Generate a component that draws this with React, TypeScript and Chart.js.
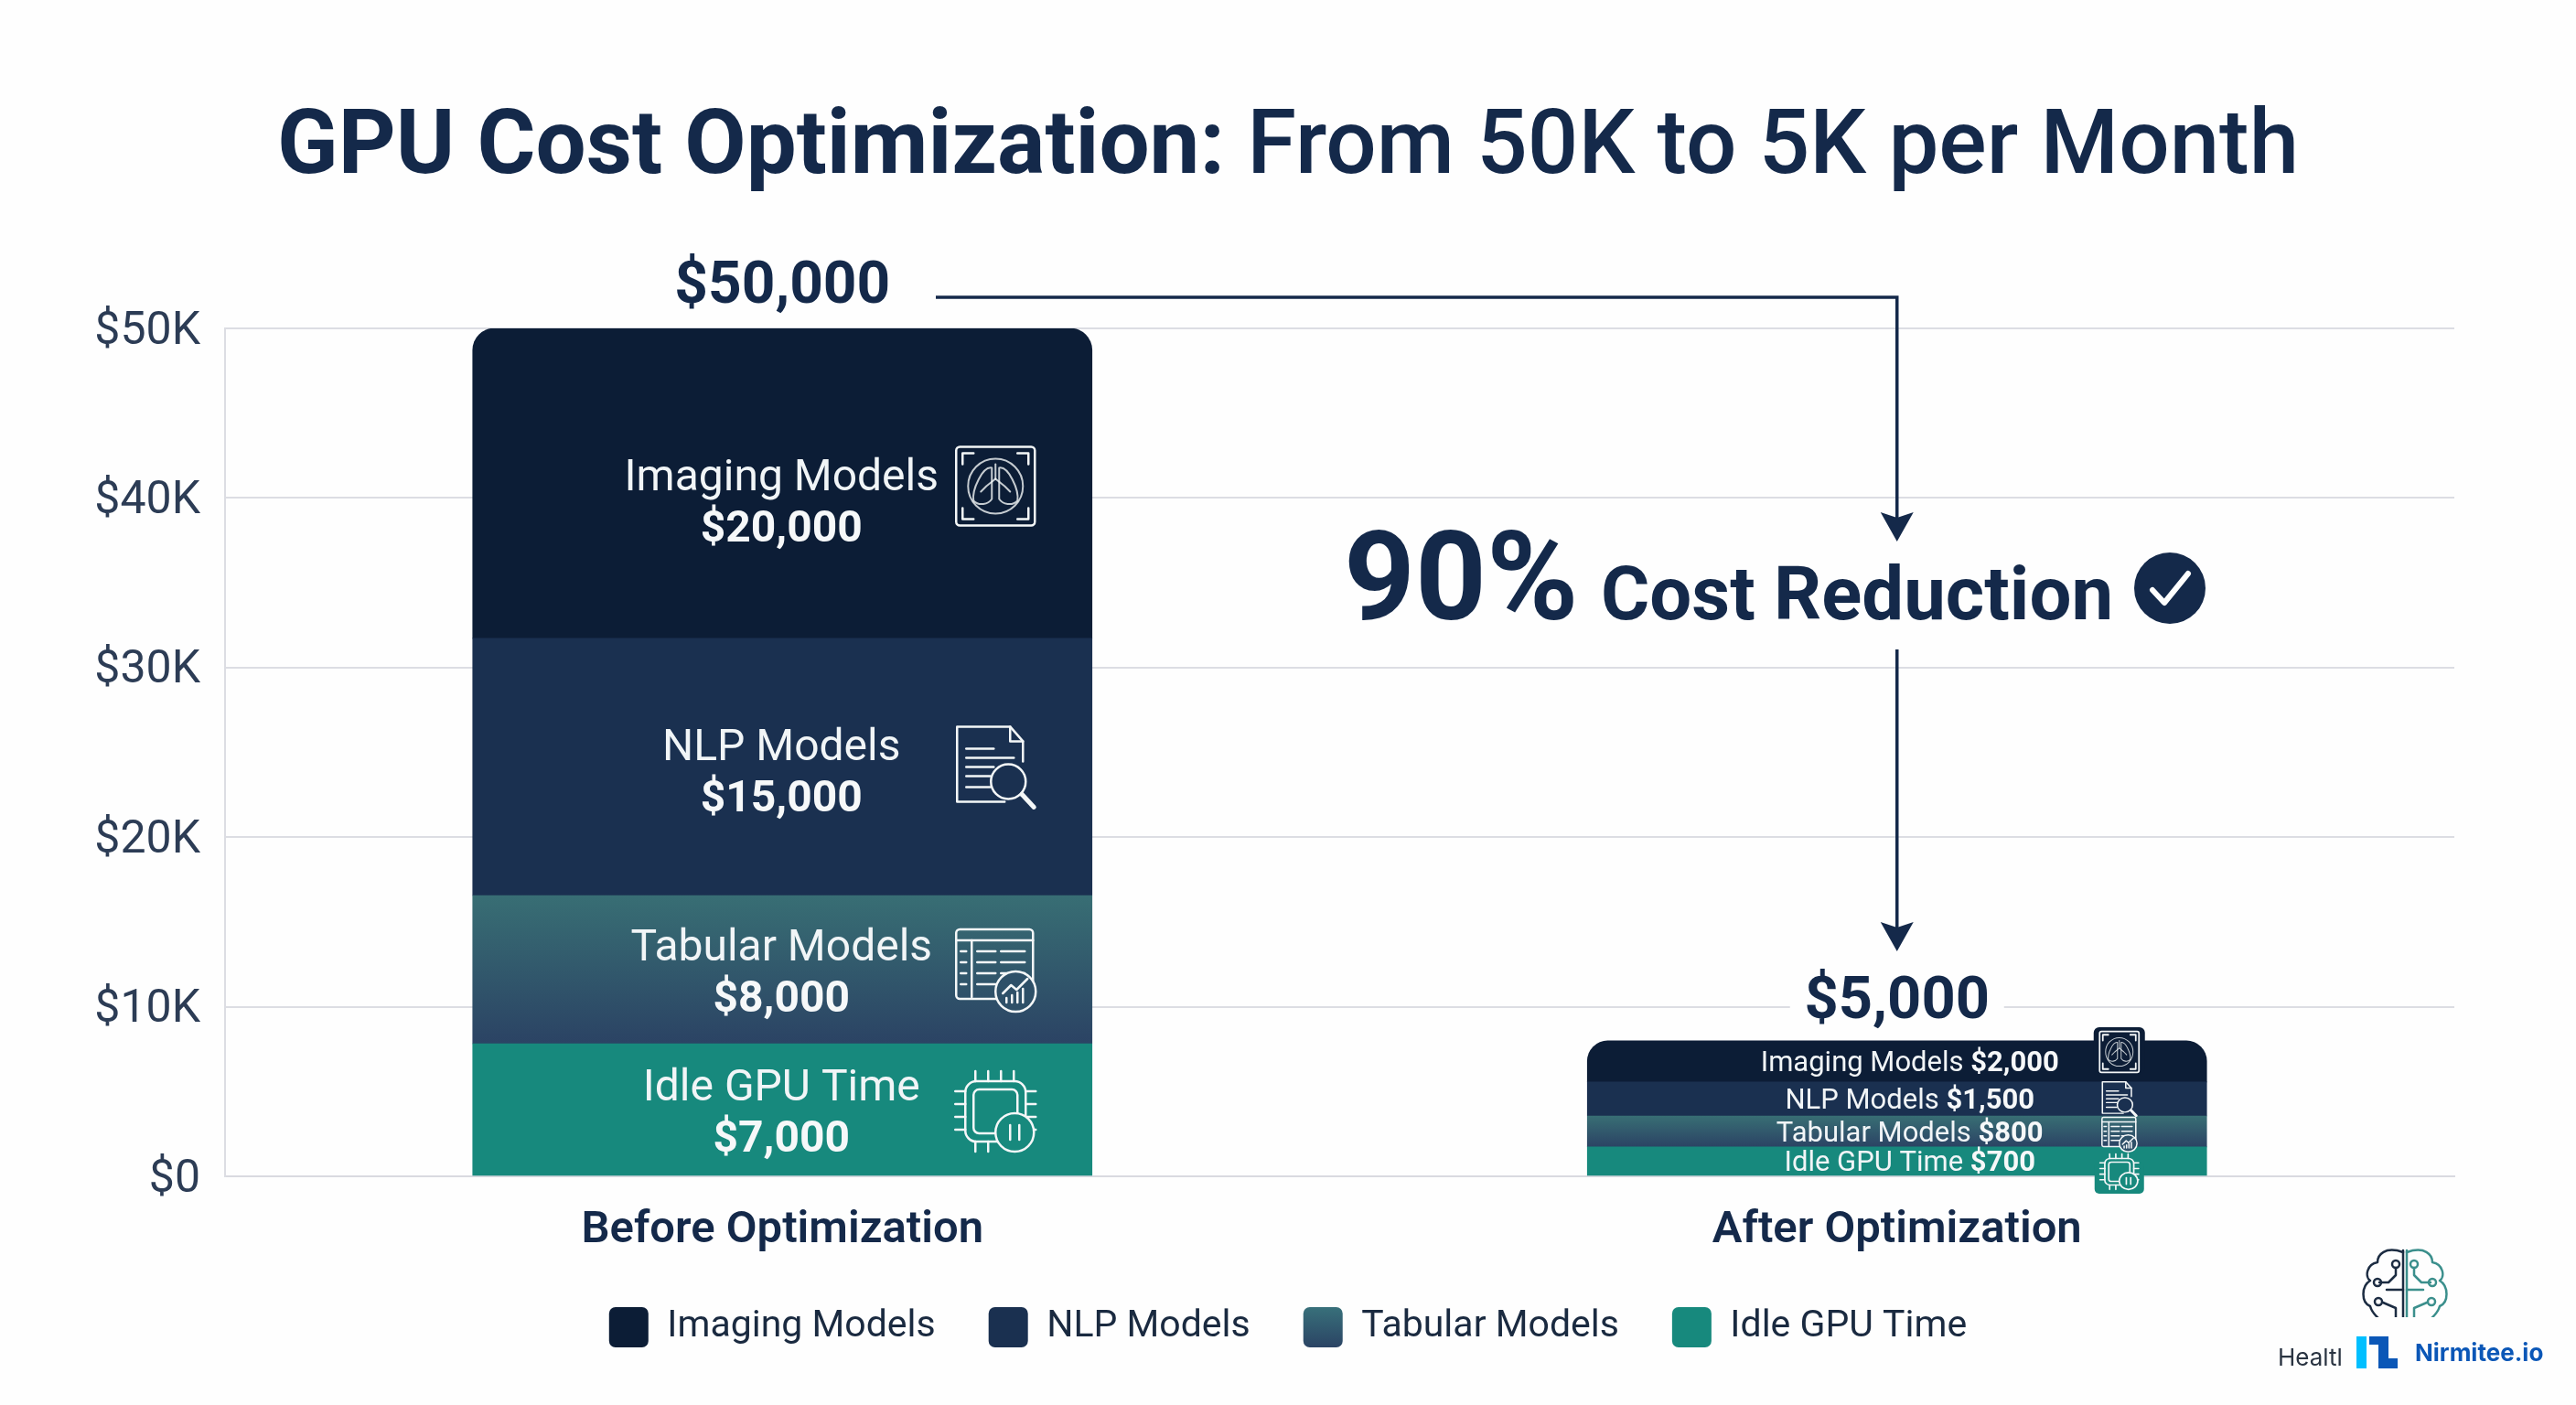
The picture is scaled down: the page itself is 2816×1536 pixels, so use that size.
import { useEffect, useRef } from "react";
import { Chart, registerables } from "chart.js";

Chart.register(...registerables);

const FONT = "Roboto, Inter, sans-serif";
const NAVY = "#14294a";
const INK = "#1a2a40";

const categories = ["Before Optimization", "After Optimization"];
const yTickLabels = ["$0", "$10K", "$20K", "$30K", "$40K", "$50K"];

// bar heights as drawn (the printed amounts below don't quite match the axis)
const idleValues = [7820, 1730];
const tabularValues = [8740, 1830];
const nlpValues = [15160, 2000];
const imagingValues = [18280, 2430];

// amounts printed on the bars
const idleAmounts = [7000, 700];
const tabularAmounts = [8000, 800];
const nlpAmounts = [15000, 1500];
const imagingAmounts = [20000, 2000];
const totalAmounts = [50000, 5000];

const money = (v: number) => "$" + v.toLocaleString("en-US");

type Ctx = CanvasRenderingContext2D;

function txt(ctx: Ctx, s: string, x: number, y: number, font: string, color: string, align: CanvasTextAlign = "center", base: CanvasTextBaseline = "middle") {
  ctx.font = font;
  ctx.fillStyle = color;
  ctx.textAlign = align;
  ctx.textBaseline = base;
  ctx.fillText(s, x, y);
}

function line(ctx: Ctx, pts: number[]) {
  ctx.beginPath();
  ctx.moveTo(pts[0], pts[1]);
  for (let i = 2; i < pts.length; i += 2) ctx.lineTo(pts[i], pts[i + 1]);
  ctx.stroke();
}

function circle(ctx: Ctx, x: number, y: number, r: number, fill?: string) {
  ctx.beginPath();
  ctx.arc(x, y, r, 0, Math.PI * 2);
  if (fill) ctx.fill();
  else ctx.stroke();
}

// icons are drawn in a box of about -44..44
function lungsIcon(ctx: Ctx) {
  ctx.beginPath();
  ctx.roundRect(-43, -43, 86, 86, 4);
  ctx.stroke();
  line(ctx, [-36, -24, -36, -36, -24, -36]);
  line(ctx, [24, -36, 36, -36, 36, -24]);
  line(ctx, [-36, 24, -36, 36, -24, 36]);
  line(ctx, [24, 36, 36, 36, 36, 24]);
  ctx.globalAlpha = 0.8;
  ctx.lineWidth = 2;
  circle(ctx, 0, 0, 30);
  line(ctx, [0, -24, 0, -8]);
  for (const s of [-1, 1]) {
    ctx.beginPath();
    ctx.moveTo(s * 4, -20);
    ctx.bezierCurveTo(s * 14, -22, s * 26, 4, s * 24, 16);
    ctx.bezierCurveTo(s * 18, 22, s * 8, 20, s * 4, 14);
    ctx.closePath();
    ctx.stroke();
    line(ctx, [0, -8, s * 10, 0, s * 16, 6]);
  }
  ctx.globalAlpha = 1;
}

function docIcon(ctx: Ctx, bg: string) {
  line(ctx, [10, 36, -42, 36, -42, -46, 16, -46, 30, -30, 30, -8]);
  line(ctx, [16, -46, 16, -30, 30, -30]);
  for (const [y, w] of [[-22, 30], [-12, 52], [-2, 30], [8, 26], [20, 26]]) line(ctx, [-32, y, -32 + w, y]);
  ctx.fillStyle = bg;
  circle(ctx, 14, 14, 19, bg);
  circle(ctx, 14, 14, 19);
  ctx.lineWidth *= 2;
  line(ctx, [29, 28, 42, 42]);
}

function tableIcon(ctx: Ctx, bg: string) {
  ctx.beginPath();
  ctx.roundRect(-43, -44, 84, 76, 4);
  ctx.stroke();
  line(ctx, [-43, -32, 41, -32]);
  line(ctx, [-26, -32, -26, 30]);
  for (const y of [-20, -8, 4, 16]) {
    line(ctx, [-38, y, -32, y]);
    line(ctx, [-20, y, 0, y]);
    line(ctx, [6, y, 32, y]);
  }
  ctx.fillStyle = bg;
  circle(ctx, 22, 24, 22, bg);
  circle(ctx, 22, 24, 22);
  line(ctx, [8, 26, 17, 17, 23, 22, 35, 10]);
  for (const [x, h] of [[12, 5], [18, 8], [24, 11], [30, 15]]) line(ctx, [x, 36, x, 36 - h]);
}

function chipIcon(ctx: Ctx, bg: string) {
  ctx.beginPath();
  ctx.roundRect(-33, -33, 66, 66, 12);
  ctx.stroke();
  ctx.beginPath();
  ctx.roundRect(-24, -24, 48, 48, 6);
  ctx.stroke();
  for (const p of [-22, -8, 6, 20]) {
    line(ctx, [p, -44, p, -33]);
    line(ctx, [-44, p, -33, p]);
    line(ctx, [44, p, 33, p]);
    if (p < 6) line(ctx, [p, 33, p, 44]);
  }
  ctx.fillStyle = bg;
  circle(ctx, 21, 23, 21, bg);
  circle(ctx, 21, 23, 21);
  line(ctx, [16, 15, 16, 31]);
  line(ctx, [26, 15, 26, 31]);
}

function placeIcon(ctx: Ctx, draw: (c: Ctx) => void, x: number, y: number, sx: number, sy: number, lw: number) {
  ctx.save();
  ctx.translate(x, y);
  ctx.scale(sx, sy);
  ctx.strokeStyle = "#f4f7f8";
  ctx.lineWidth = lw;
  ctx.lineJoin = "round";
  ctx.lineCap = "round";
  draw(ctx);
  ctx.restore();
}

function arrowDown(ctx: Ctx, x: number, tip: number) {
  ctx.beginPath();
  ctx.moveTo(x, tip);
  ctx.lineTo(x - 18, tip - 32);
  ctx.lineTo(x, tip - 26);
  ctx.lineTo(x + 18, tip - 32);
  ctx.closePath();
  ctx.fill();
}

function brainLogo(ctx: Ctx) {
  const cx = 2629;
  ctx.save();
  ctx.beginPath();
  ctx.rect(2570, 1360, 120, 80);
  ctx.clip();
  ctx.lineWidth = 2.5;
  ctx.lineCap = "round";
  ctx.lineJoin = "round";
  for (const s of [-1, 1]) {
    const col = s < 0 ? "#1c2c42" : "#3b8f8c";
    ctx.strokeStyle = col;
    ctx.fillStyle = col;
    ctx.beginPath();
    ctx.moveTo(cx + s * 2, 1369);
    ctx.bezierCurveTo(cx + s * 22, 1362, cx + s * 30, 1372, cx + s * 30, 1380);
    ctx.bezierCurveTo(cx + s * 42, 1382, cx + s * 44, 1396, cx + s * 38, 1400);
    ctx.bezierCurveTo(cx + s * 48, 1406, cx + s * 48, 1424, cx + s * 38, 1428);
    ctx.bezierCurveTo(cx + s * 36, 1436, cx + s * 30, 1440, cx + s * 26, 1444);
    ctx.stroke();
    line(ctx, [cx + s * 2, 1367, cx + s * 2, 1442]);
    line(ctx, [cx + s * 10, 1386, cx + s * 10, 1394, cx + s * 18, 1402, cx + s * 28, 1402]);
    line(ctx, [cx + s * 2, 1410, cx + s * 20, 1410]);
    line(ctx, [cx + s * 10, 1444, cx + s * 10, 1430, cx + s * 24, 1424]);
    circle(ctx, cx + s * 10, 1382, 4);
    circle(ctx, cx + s * 30, 1402, 4);
    circle(ctx, cx + s * 29, 1423, 4);
  }
  ctx.restore();
}

const annotations = {
  id: "annotations",
  afterDatasetsDraw(chart: any) {
    const ctx: Ctx = chart.ctx;
    const [idleMeta, tabMeta, nlpMeta, imgMeta] = [0, 1, 2, 3].map((i) => chart.getDatasetMeta(i));
    const beforeX = idleMeta.data[0].x;
    const afterX = idleMeta.data[1].x;
    const segs = [imgMeta, nlpMeta, tabMeta, idleMeta];
    const names = ["Imaging Models", "NLP Models", "Tabular Models", "Idle GPU Time"];
    const amounts = [imagingAmounts, nlpAmounts, tabularAmounts, idleAmounts];
    const middle = (m: any, i: number) => (m.data[i].y + m.data[i].base) / 2;
    ctx.save();

    // title
    ctx.font = `700 97.8px ${FONT}`;
    const t1 = "GPU Cost Optimization:";
    const t2 = " From 50K to 5K per Month";
    const w1 = ctx.measureText(t1).width;
    ctx.font = `500 97.8px ${FONT}`;
    const w2 = ctx.measureText(t2).width;
    const tx = 1408 - (w1 + w2) / 2;
    txt(ctx, t1, tx, 189, `700 97.8px ${FONT}`, NAVY, "left", "alphabetic");
    txt(ctx, t2, tx + w1, 189, `500 97.8px ${FONT}`, NAVY, "left", "alphabetic");

    // totals
    txt(ctx, money(totalAmounts[0]), beforeX, 315, `700 64px ${FONT}`, NAVY);
    ctx.fillStyle = "#fefefe";
    ctx.fillRect(afterX - 117, 1062, 234, 60);
    txt(ctx, money(totalAmounts[1]), afterX, 1097, `700 65px ${FONT}`, NAVY);

    // connector and reduction callout
    ctx.strokeStyle = NAVY;
    ctx.fillStyle = NAVY;
    ctx.lineWidth = 3.5;
    line(ctx, [1023, 325, afterX, 325, afterX, 570]);
    arrowDown(ctx, afterX, 592);
    line(ctx, [afterX, 710, afterX, 1020]);
    arrowDown(ctx, afterX, 1040);

    txt(ctx, "90%", 1469, 677, `700 136px ${FONT}`, NAVY, "left", "alphabetic");
    txt(ctx, "Cost Reduction", 1750, 677, `700 81.5px ${FONT}`, NAVY, "left", "alphabetic");
    ctx.fillStyle = NAVY;
    circle(ctx, 2372, 643, 39, NAVY);
    ctx.strokeStyle = "#ffffff";
    ctx.lineWidth = 6;
    ctx.lineCap = "round";
    ctx.lineJoin = "round";
    line(ctx, [2353, 645, 2366, 659, 2392, 627]);

    // labels on the big bar
    const shifts = [24, 9, 6, 6];
    segs.forEach((m, i) => {
      const y = middle(m, 0) + shifts[i];
      txt(ctx, names[i], beforeX - 1, y - 28, `400 48px ${FONT}`, "#f1f5f7");
      txt(ctx, money(amounts[i][0]), beforeX - 1, y + 28, `700 48px ${FONT}`, "#f6f8f9");
    });

    // labels on the small bar
    segs.forEach((m, i) => {
      const y = middle(m, 1) + 3;
      const a = names[i] + " ";
      const b = money(amounts[i][1]);
      ctx.font = `400 31px ${FONT}`;
      const wa = ctx.measureText(a).width;
      ctx.font = `700 31px ${FONT}`;
      const wb = ctx.measureText(b).width;
      const x = afterX + 14 - (wa + wb) / 2;
      txt(ctx, a, x, y, `400 31px ${FONT}`, "#f1f5f7", "left");
      txt(ctx, b, x + wa, y, `700 31px ${FONT}`, "#f6f8f9", "left");
    });

    // icons
    const iconX = beforeX + 233;
    placeIcon(ctx, lungsIcon, iconX, middle(imgMeta, 0) + 3, 1, 1, 2.5);
    placeIcon(ctx, (c) => docIcon(c, "#1a3050"), iconX, middle(nlpMeta, 0) + 2, 1, 1, 2.5);
    placeIcon(ctx, (c) => tableIcon(c, "#2e5068"), iconX, middle(tabMeta, 0), 1, 1, 2.5);
    placeIcon(ctx, (c) => chipIcon(c, "#17897d"), iconX, middle(idleMeta, 0) + 2, 1, 1, 2.5);

    const tabX = afterX + 243;
    ctx.fillStyle = "#0c1d36";
    ctx.beginPath();
    ctx.roundRect(tabX - 28, 1123, 56, 50, 6);
    ctx.fill();
    ctx.fillStyle = "#17897d";
    ctx.beginPath();
    ctx.roundRect(tabX - 27, 1270, 54, 35, 5);
    ctx.fill();
    placeIcon(ctx, lungsIcon, tabX, 1150, 0.5, 0.52, 3.5);
    placeIcon(ctx, (c) => docIcon(c, "#1a3050"), tabX, 1202, 0.44, 0.42, 3.5);
    placeIcon(ctx, (c) => tableIcon(c, "#2e5068"), tabX, 1240, 0.44, 0.42, 3.5);
    placeIcon(ctx, (c) => chipIcon(c, "#17897d"), tabX, 1281, 0.48, 0.44, 3.5);

    // watermark
    brainLogo(ctx);
    txt(ctx, "Healtl", 2490, 1485, `400 26px Inter, ${FONT}`, "#2a3442", "left");
    ctx.fillStyle = "#00bfff";
    ctx.fillRect(2576, 1461, 11, 35);
    ctx.fillStyle = "#0b57b7";
    ctx.beginPath();
    ctx.moveTo(2590, 1461);
    ctx.lineTo(2611, 1461);
    ctx.lineTo(2611, 1485);
    ctx.lineTo(2621, 1485);
    ctx.lineTo(2621, 1496);
    ctx.lineTo(2600, 1496);
    ctx.lineTo(2600, 1470);
    ctx.lineTo(2590, 1470);
    ctx.closePath();
    ctx.fill();
    txt(ctx, "Nirmitee.io", 2640, 1488, `700 26px Inter, ${FONT}`, "#0b57b7", "left", "alphabetic");

    ctx.restore();
  },
};

const pageBackground = {
  id: "pageBackground",
  beforeDraw(chart: any) {
    chart.ctx.save();
    chart.ctx.fillStyle = "#fefefe";
    chart.ctx.fillRect(0, 0, chart.width, chart.height);
    chart.ctx.restore();
  },
};

export default function App() {
  const chartRef = useRef<HTMLCanvasElement>(null);

  useEffect(() => {
    document.body.style.margin = "0";
    if (!chartRef.current) return;
    const ctx = chartRef.current.getContext("2d");
    if (!ctx) return;

    const swatch = ctx.createLinearGradient(0, 1429, 0, 1473);
    swatch.addColorStop(0, "#38707a");
    swatch.addColorStop(1, "#2b4464");

    const tabularFill = (c: any) => {
      const y = c.chart.scales.y;
      if (!y || c.dataIndex === undefined) return "#2e5068";
      const i = c.dataIndex;
      const g = ctx.createLinearGradient(0, y.getPixelForValue(idleValues[i] + tabularValues[i]), 0, y.getPixelForValue(idleValues[i]));
      g.addColorStop(0, "#386e74");
      g.addColorStop(1, "#2b4364");
      return g;
    };

    const chart = new Chart(ctx, {
      type: "bar",
      data: {
        labels: categories,
        datasets: [
          { label: "Idle GPU Time", data: idleValues, backgroundColor: "#17897d" },
          { label: "Tabular Models", data: tabularValues, backgroundColor: tabularFill },
          { label: "NLP Models", data: nlpValues, backgroundColor: "#1a3050" },
          {
            label: "Imaging Models",
            data: imagingValues,
            backgroundColor: "#0c1d36",
            borderRadius: { topLeft: 24, topRight: 24, bottomLeft: 0, bottomRight: 0 },
            borderSkipped: false,
          },
        ],
      },
      options: {
        responsive: false,
        animation: false,
        devicePixelRatio: 1,
        barThickness: 677,
        layout: { padding: { top: 359, right: 0, bottom: 53, left: 0 } },
        plugins: {
          tooltip: { enabled: false },
          legend: {
            position: "bottom",
            onClick: () => {},
            labels: {
              boxWidth: 43,
              boxHeight: 44,
              padding: 58,
              useBorderRadius: true,
              borderRadius: 7,
              color: INK,
              font: { family: FONT, size: 41 },
              generateLabels: () =>
                [
                  ["Imaging Models", "#0c1d36"],
                  ["NLP Models", "#1a3050"],
                  ["Tabular Models", swatch],
                  ["Idle GPU Time", "#17897d"],
                ].map(([text, fill]: any) => ({ text, fillStyle: fill, strokeStyle: fill, lineWidth: 0, fontColor: INK, borderRadius: 7 })),
            },
          },
        },
        scales: {
          x: {
            stacked: true,
            afterFit: (s: any) => {
              s.height = 85;
            },
            grid: { display: false },
            border: { color: "#d9dae0", width: 2 },
            ticks: { color: NAVY, padding: 22, font: { family: FONT, size: 49, weight: 600 } },
          },
          y: {
            stacked: true,
            min: 0,
            max: 50000,
            afterFit: (s: any) => {
              s.width = 246;
            },
            grid: { color: "#dcdde3", lineWidth: 2, drawTicks: false },
            border: { color: "#dcdde3", width: 2 },
            ticks: {
              stepSize: 10000,
              padding: 27,
              color: "#2c3c55",
              labelOffset: 4,
              font: { family: FONT, size: 50 },
              callback: (_v: any, i: number) => yTickLabels[i],
            },
          },
          // empty axis, only keeps the plot clear of the right edge so the legend stays page-centred
          spacer: {
            position: "right",
            grid: { display: false },
            border: { display: false },
            ticks: { display: false },
            afterFit: (s: any) => {
              s.width = 133;
            },
          },
        },
      } as any,
      plugins: [pageBackground, annotations],
    });

    return () => chart.destroy();
  }, []);

  return <canvas ref={chartRef} width={2816} height={1536} style={{ display: "block" }} />;
}
